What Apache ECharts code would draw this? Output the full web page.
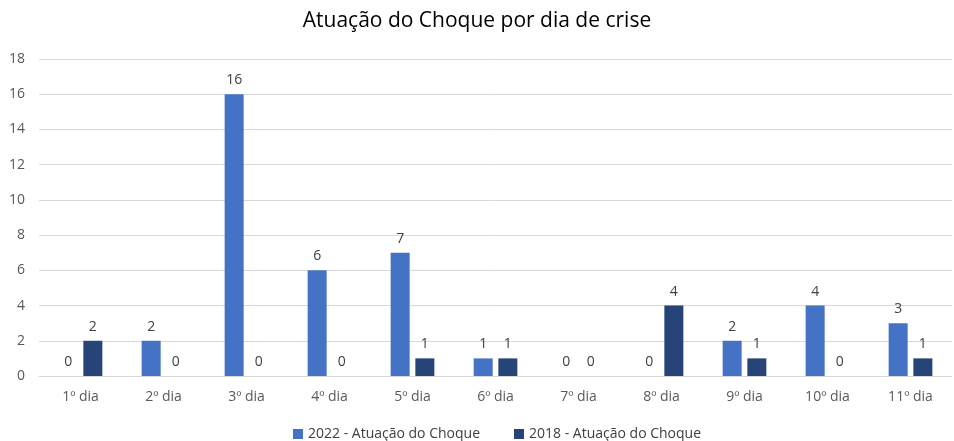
<!DOCTYPE html>
<html><head><meta charset="utf-8">
<script src="https://cdn.jsdelivr.net/npm/echarts@6/dist/echarts.min.js"></script>
<style>html,body{margin:0;padding:0;background:#fff}#c{width:954px;height:441px}</style>
</head><body><div id="c"></div>
<script>
const categories = ['1º dia','2º dia','3º dia','4º dia','5º dia','6º dia','7º dia','8º dia','9º dia','10º dia','11º dia'];
const seriesNames = ['2022 - Atuação do Choque','2018 - Atuação do Choque'];
const values2022 = [0,2,16,6,7,1,0,0,2,4,3];
const values2018 = [2,0,0,0,1,1,0,4,1,0,1];
const yTicks = [0,2,4,6,8,10,12,14,16,18];

const font = "'Open Sans', sans-serif";
const chart = echarts.init(document.getElementById('c'));
const label = {show:true, position:'top', color:'#404040', fontSize:14, fontFamily:font, distance:7};
chart.setOption({
  animation:false,
  title:{text:'Atuação do Choque por dia de crise', left:'center', top:6,
    textStyle:{fontFamily:font, fontSize:21, fontWeight:'normal', color:'#000'}},
  grid:{left:39, right:2, top:59, bottom:65, containLabel:false},
  legend:{top:422, left:288, itemWidth:10, itemHeight:10, itemGap:34, icon:'rect',
    textStyle:{fontFamily:font, fontSize:14, color:'#404040'}},
  xAxis:{type:'category', data:categories,
    axisLine:{lineStyle:{color:'#d9d9d9'}}, axisTick:{show:false},
    axisLabel:{color:'#595959', fontFamily:font, fontSize:14, margin:14}},
  yAxis:{type:'value', min:yTicks[0], max:yTicks[yTicks.length-1], interval:2,
    axisLine:{show:false}, axisTick:{show:false},
    splitLine:{lineStyle:{color:'#d9d9d9'}},
    axisLabel:{color:'#595959', fontFamily:font, fontSize:14, margin:14}},
  series:[
    {name:seriesNames[0], type:'bar', data:values2022, barWidth:19, barGap:'30%', itemStyle:{color:'#4472C4'}, label},
    {name:seriesNames[1], type:'bar', data:values2018, barWidth:19, barGap:'30%', itemStyle:{color:'#264478'}, label}
  ]
});
</script></body></html>
